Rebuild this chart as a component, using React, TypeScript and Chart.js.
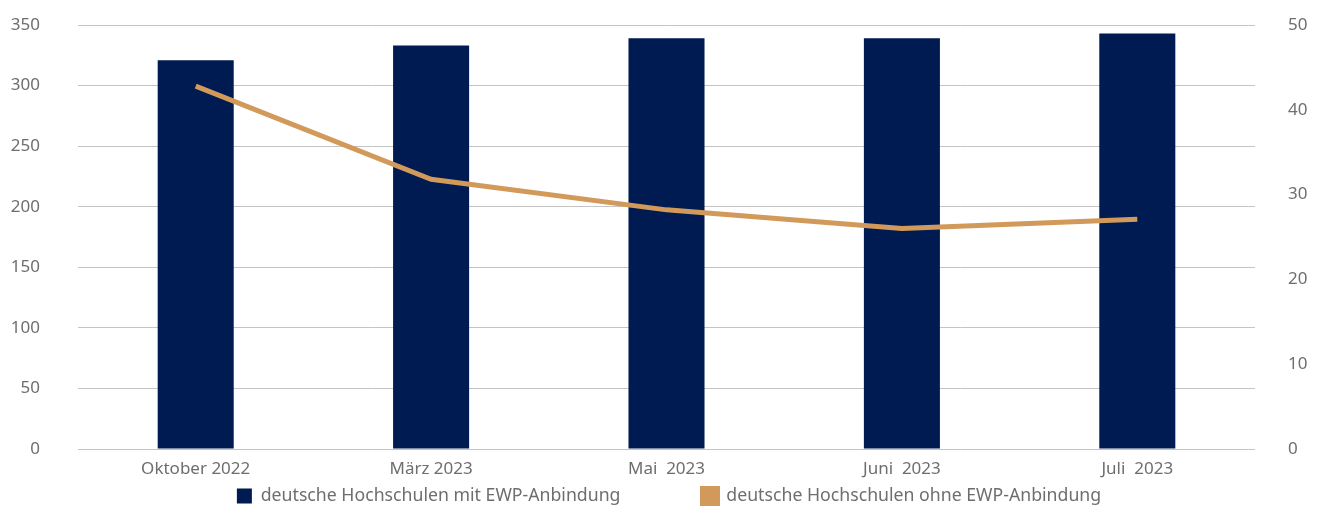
import React, { useEffect, useRef } from "react";
import { Chart, registerables } from "chart.js";

Chart.register(...registerables);

const categories = ["Oktober 2022", "März 2023", "Mai  2023", "Juni  2023", "Juli  2023"];
const withEwp = [321, 333, 339, 339, 343];
const withoutEwp = [42.8, 31.8, 28.2, 26.0, 27.1];
const seriesLabels = [
  "deutsche Hochschulen mit EWP-Anbindung",
  "deutsche Hochschulen ohne EWP-Anbindung",
];

const BAR_COLOR = "#001A52";
const LINE_COLOR = "#D29A5A";
const TEXT_COLOR = "#6E6E6E";
const GRID_COLOR = "#C4C4C4";
const FONT = { family: "'Noto Sans', sans-serif", size: 17 };
const LEGEND_FONT = { family: "'Noto Sans', sans-serif", size: 17.7 };

export default function App() {
  const ref = useRef<HTMLCanvasElement | null>(null);

  useEffect(() => {
    if (!ref.current) return;
    const legendShift = {
      id: "legendShift",
      afterLayout(chart: any) {
        const lg = chart.legend;
        if (lg) {
          const pad = lg.options.labels.padding;
          lg.top = 496 - 8.85 - pad;
          lg.left += 9;
          lg.right += 9;
        }
      },
    };
    const chart = new Chart(ref.current, {
      type: "bar",
      data: {
        labels: categories,
        datasets: [
          {
            type: "bar",
            label: seriesLabels[0],
            data: withEwp,
            backgroundColor: BAR_COLOR,
            borderWidth: 0,
            categoryPercentage: 1,
            barPercentage: 0.323,
            yAxisID: "y",
            order: 2,
          },
          {
            type: "line",
            label: seriesLabels[1],
            data: withoutEwp,
            borderColor: LINE_COLOR,
            backgroundColor: LINE_COLOR,
            borderWidth: 5,
            pointRadius: 0,
            tension: 0,
            yAxisID: "y1",
            order: 1,
          },
        ],
      },
      options: {
        animation: false,
        responsive: true,
        maintainAspectRatio: false,
        layout: { padding: { top: 25, left: 0, right: 0, bottom: 0 } },
        plugins: {
          tooltip: { enabled: false },
          legend: {
            position: "bottom",
            maxHeight: 26,
            labels: {
              color: TEXT_COLOR,
              font: LEGEND_FONT,
              boxWidth: 15,
              boxHeight: 15,
              padding: 82,
              sort: (a: any, b: any) => a.datasetIndex - b.datasetIndex,
            },
          },
        },
        scales: {
          x: {
            grid: { display: false, drawTicks: false },
            border: { display: false },
            ticks: { color: TEXT_COLOR, font: FONT, padding: 10, maxRotation: 0 },
            afterFit(scale: any) {
              scale.height = 31;
            },
          },
          y: {
            position: "left",
            min: 0,
            max: 350,
            ticks: { stepSize: 50, color: TEXT_COLOR, font: FONT, padding: 0 },
            grid: {
              color: GRID_COLOR,
              lineWidth: 1,
              drawTicks: true,
              tickLength: 38,
              tickColor: "rgba(0,0,0,0)",
            },
            border: { display: false },
            afterFit(scale: any) {
              scale.width = 78;
            },
          },
          y1: {
            position: "right",
            min: 0,
            max: 50,
            ticks: { stepSize: 10, color: TEXT_COLOR, font: FONT, padding: 0 },
            grid: {
              display: true,
              drawOnChartArea: false,
              drawTicks: true,
              tickLength: 33,
              tickColor: "rgba(0,0,0,0)",
              color: "rgba(0,0,0,0)",
            },
            border: { display: false },
            afterFit(scale: any) {
              scale.width = 65;
            },
          },
        },
      },
      plugins: [legendShift],
    } as any);
    return () => chart.destroy();
  }, []);

  return (
    <div style={{ position: "absolute", left: 0, top: 0, width: 1320, height: 506 }}>
      <canvas ref={ref} />
    </div>
  );
}
